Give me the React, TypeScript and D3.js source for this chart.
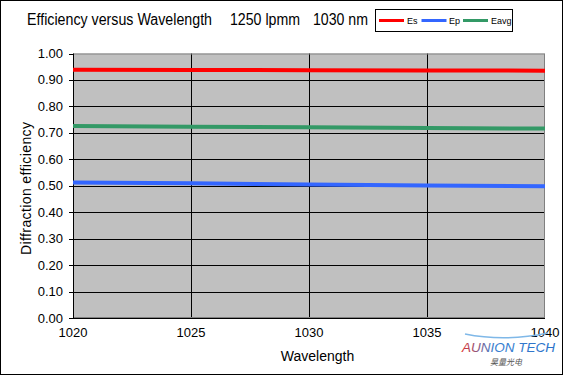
import React from "react";
import * as d3 from "d3";

const wavelengths = [1020, 1025, 1030, 1035, 1040];
const esValues = [0.939, 0.938, 0.937, 0.936, 0.935];
const epValues = [0.512, 0.509, 0.505, 0.501, 0.498];
const eavgValues = [0.726, 0.723, 0.721, 0.718, 0.716];
const yTicks = [0, 0.1, 0.2, 0.3, 0.4, 0.5, 0.6, 0.7, 0.8, 0.9, 1.0];
const xTicks = [1020, 1025, 1030, 1035, 1040];

const seriesList = [
  { name: "Es", values: esValues, color: "#ff0000" },
  { name: "Ep", values: epValues, color: "#3366ff" },
  { name: "Eavg", values: eavgValues, color: "#339966" },
];

const W = 569;
const H = 376;
const left = 73;
const right = 545;
const top = 53.5;
const bottom = 318;
const font = "'Liberation Sans', Arial, sans-serif";

export default function App() {
  const x = d3.scaleLinear().domain([1020, 1040]).range([left, right]);
  const y = d3.scaleLinear().domain([0, 1]).range([bottom, top]);
  const line = d3
    .line<[number, number]>()
    .x((d) => x(d[0]))
    .y((d) => y(d[1]));

  const legendItems = [
    { x0: 379, tx: 407 },
    { x0: 421.5, tx: 449 },
    { x0: 463, tx: 491 },
  ];

  return (
    <svg
      width={W}
      height={H}
      style={{ position: "absolute", left: 0, top: 0, display: "block" }}
      fontFamily={font}
    >
      <rect x={0} y={0} width={W} height={H} fill="#ffffff" />
      <rect x={0.5} y={0.5} width={562} height={374} fill="none" stroke="#000" strokeWidth={1} />

      {/* Title */}
      <text x={27} y={25} fontSize={16} fill="#000" textLength={185} lengthAdjust="spacingAndGlyphs">
        Efficiency versus  Wavelength
      </text>
      <text x={230} y={25} fontSize={16} fill="#000" textLength={70} lengthAdjust="spacingAndGlyphs">
        1250 lpmm
      </text>
      <text x={313} y={25} fontSize={16} fill="#000" textLength={55} lengthAdjust="spacingAndGlyphs">
        1030 nm
      </text>

      {/* Legend */}
      <rect x={375.5} y={9.5} width={137} height={22} fill="#fff" stroke="#000" strokeWidth={1} />
      {seriesList.map((s, i) => (
        <g key={s.name}>
          <line
            x1={legendItems[i].x0}
            x2={legendItems[i].x0 + 25}
            y1={20.5}
            y2={20.5}
            stroke={s.color}
            strokeWidth={3}
          />
          <text x={legendItems[i].tx} y={24} fontSize={9} fill="#000">
            {s.name}
          </text>
        </g>
      ))}

      {/* Plot area */}
      <rect x={left} y={top} width={right - left} height={bottom - top} fill="#c0c0c0" />
      {yTicks.slice(1, -1).map((t) => (
        <line key={"gy" + t} x1={left} x2={right} y1={Math.round(y(t)) + 0.5} y2={Math.round(y(t)) + 0.5} stroke="#000" strokeWidth={1} />
      ))}
      {xTicks.slice(1, -1).map((t) => (
        <line key={"gx" + t} x1={Math.round(x(t)) + 0.5} x2={Math.round(x(t)) + 0.5} y1={top} y2={bottom} stroke="#000" strokeWidth={1} />
      ))}
      <rect x={left + 0.5} y={top + 0.5} width={right - left - 1} height={bottom - top - 1} fill="none" stroke="#808080" strokeWidth={1} />

      {/* Axes */}
      <line x1={left + 0.5} x2={left + 0.5} y1={top} y2={bottom} stroke="#000" strokeWidth={1} />
      <line x1={left} x2={right} y1={bottom + 0.5} y2={bottom + 0.5} stroke="#000" strokeWidth={1} />
      {yTicks.map((t) => (
        <g key={"yt" + t}>
          <line x1={69} x2={left} y1={Math.round(y(t)) + 0.5} y2={Math.round(y(t)) + 0.5} stroke="#000" strokeWidth={1} />
          <text x={63} y={y(t) + 4.5} fontSize={13} textAnchor="end" fill="#000">
            {t.toFixed(2)}
          </text>
        </g>
      ))}
      {xTicks.map((t) => (
        <text key={"xt" + t} x={x(t)} y={336.5} fontSize={13} textAnchor="middle" fill="#000">
          {t}
        </text>
      ))}

      {/* Series */}
      {seriesList.map((s) => (
        <path
          key={s.name}
          d={line(wavelengths.map((w, i) => [w, s.values[i]] as [number, number])) || ""}
          fill="none"
          stroke={s.color}
          strokeWidth={4}
        />
      ))}

      {/* Axis titles */}
      <text x={317.5} y={361} fontSize={14} textAnchor="middle" fill="#000">Wavelength</text>
      <text
        transform="translate(31,188.5) rotate(-90)"
        fontSize={14}
        textAnchor="middle"
        fill="#000"
        textLength={133}
        lengthAdjust="spacing"
      >
        Diffraction efficiency
      </text>

      {/* Watermark logo */}
      <defs>
        <linearGradient id="logoGrad" x1="0" x2="1" y1="0" y2="0">
          <stop offset="0" stopColor="#e03030" />
          <stop offset="0.35" stopColor="#3a7fd0" />
          <stop offset="1" stopColor="#2a70c8" />
        </linearGradient>
      </defs>
      <path d="M465,334 Q505,342 548,333" fill="none" stroke="#7fb8e8" strokeWidth={1.5} />
      <text x={462} y={351.5} fontSize={12} fontStyle="italic" fill="url(#logoGrad)" textLength={93} lengthAdjust="spacingAndGlyphs">
        AUNION TECH
      </text>
      <text x={490} y={365} fontSize={8} fontStyle="italic" fill="#555" fontFamily="'Noto Sans CJK SC', sans-serif">
        昊量光电
      </text>
    </svg>
  );
}
